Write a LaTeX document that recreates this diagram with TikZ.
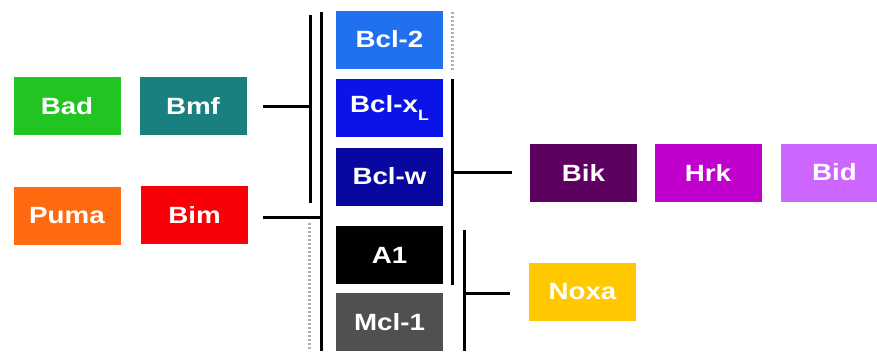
\documentclass[tikz,border=0pt]{standalone}
\usepackage{fontspec}
\newfontfamily\lab[FakeStretch=1.18]{Liberation Sans}
\definecolor{cBad}{HTML}{22C422}
\definecolor{cBmf}{HTML}{1A7F7F}
\definecolor{cPuma}{HTML}{FF6A10}
\definecolor{cBim}{HTML}{F80008}
\definecolor{cBcltwo}{HTML}{2070F0}
\definecolor{cBclxl}{HTML}{0A14E8}
\definecolor{cBclw}{HTML}{0808A0}
\definecolor{cAone}{HTML}{000000}
\definecolor{cMcl}{HTML}{505050}
\definecolor{cBik}{HTML}{5E0060}
\definecolor{cHrk}{HTML}{C000CC}
\definecolor{cBid}{HTML}{CC66FF}
\definecolor{cNoxa}{HTML}{FFC800}
\definecolor{dotgray}{HTML}{B0B0B0}
\tikzset{
  pbox/.style={fill=#1, draw=none, minimum width=107pt, minimum height=58pt,
    inner sep=0pt, text=white, font=\lab\bfseries\fontsize{23.5}{26}\selectfont},
  bar/.style={line width=3pt, black},
  dotbar/.style={line width=3pt, dotgray, dash pattern=on 2pt off 2pt},
}
\begin{document}
\begin{tikzpicture}[x=1pt,y=-1pt]
\useasboundingbox (0,0) rectangle (877,354);
\clip (0,0) rectangle (877,354);
% left boxes
\node[pbox=cBad] (bad) at (67,106) {Bad};
\node[pbox=cBmf] (bmf) at (193,106) {Bmf};
\node[pbox=cPuma] (puma) at (67,215.5) {Puma};
\node[pbox=cBim] (bim) at (194.5,215) {Bim};
% middle column
\node[pbox=cBcltwo] (bcl2) at (389.5,39.5) {Bcl-2};
\node[pbox=cBclxl] (bclxl) at (389.5,108) {Bcl-x\raisebox{-0.3em}{\fontsize{15}{16}\selectfont L}};
\node[pbox=cBclw] (bclw) at (389.5,176.5) {Bcl-w};
\node[pbox=cAone] (a1) at (389.5,255) {A1};
\node[pbox=cMcl] (mcl1) at (389.5,322) {Mcl-1};
% right boxes
\node[pbox=cBik] (bik) at (583.5,172.5) {Bik};
\node[pbox=cHrk] (hrk) at (708,172.5) {Hrk};
\node[pbox=cBid] (bid) at (834.5,172.5) {Bid};
\node[pbox=cNoxa] (noxa) at (582.5,291.5) {Noxa};
% bracket coordinates
\coordinate (v1t) at (310,15);
\coordinate (v1b) at (310,203);
\coordinate (v2t) at (321,12);
\coordinate (v2b) at (321,351);
\coordinate (d1t) at (309,223);
\coordinate (d1b) at (309,351);
\coordinate (d2t) at (452,12);
\coordinate (d2b) at (452,72);
\coordinate (v3t) at (452,79);
\coordinate (v3b) at (452,285);
\coordinate (v4t) at (464,230);
\coordinate (v4b) at (464,351);
% brackets
\draw[bar] (v1t) -- (v1b);
\draw[bar] (v2t) -- (v2b);
\draw[dotbar] (d1t) -- (d1b);
\draw[dotbar] (d2t) -- (d2b);
\draw[bar] (v3t) -- (v3b);
\draw[bar] (v4t) -- (v4b);
% connectors
\draw[bar] ([xshift=16pt]bmf.east) -- (v1t |- bmf.east);
\draw[bar] ([xshift=15pt,yshift=-2pt]bim.east) -- ([yshift=-2pt]v2t |- bim.east);
\draw[bar] (v3t |- bik.west) -- ([xshift=-18pt]bik.west);
\draw[bar] ([yshift=-1.5pt]v4t |- noxa.west) -- ([xshift=-19pt,yshift=-1.5pt]noxa.west);
\end{tikzpicture}
\end{document}
